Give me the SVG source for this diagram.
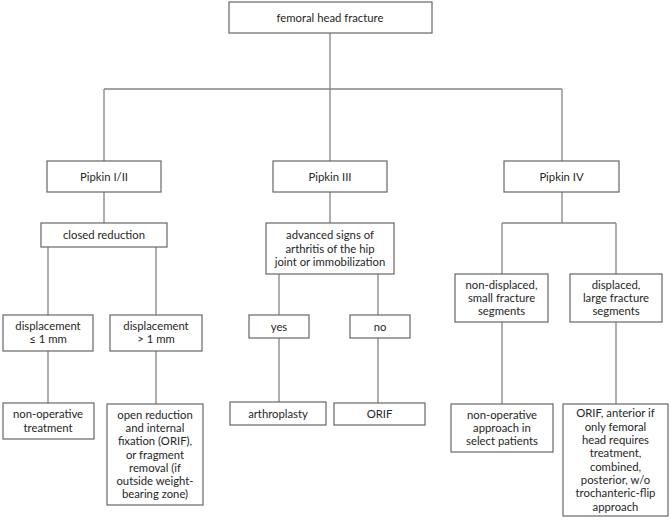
<svg xmlns="http://www.w3.org/2000/svg" width="671" height="521" viewBox="0 0 671 521">
<style>
.b{fill:#fff;stroke:#666;stroke-width:1.2}
.c{fill:none;stroke:#858585;stroke-width:1.3}
text{font-family:Lato,"Open Sans","Liberation Sans",sans-serif;font-size:11.3px;fill:#262626;text-anchor:middle}
</style>
<rect width="671" height="521" fill="#fff"/>
<g id="connectors">
<path class="c" d="M330 33V89M104 89H562M104 89V161M330 89V161M562 89V161"/>
<path class="c" d="M104 192V223M48 247V315M156 247V315M48 351V403M156 351V404"/>
<path class="c" d="M330 192V223M279 274V315M378 274V315M279 338V402M378 338V403"/>
<path class="c" d="M562 192V223M502 223H616M502 223V274M616 223V274M502 322V404M616 322V404"/>
</g>
<g id="n-root"><rect class="b" x="229" y="2" width="203" height="31"/><text x="330" y="21.5">femoral head fracture</text></g>
<g id="n-p12"><rect class="b" x="47" y="161" width="114" height="31"/><text x="104" y="180.5">Pipkin I/II</text></g>
<g id="n-p3"><rect class="b" x="273" y="161" width="114" height="31"/><text x="330" y="180.5">Pipkin III</text></g>
<g id="n-p4"><rect class="b" x="504" y="161" width="115" height="31"/><text x="561.5" y="180.5">Pipkin IV</text></g>
<g id="n-closed"><rect class="b" x="41" y="223" width="126" height="24"/><text x="104" y="239">closed reduction</text></g>
<g id="n-adv"><rect class="b" x="266" y="223" width="128" height="51"/><text x="330" y="239.2">advanced signs of</text><text x="330" y="252.5">arthritis of the hip</text><text x="330" y="265.8">joint or immobilization</text></g>
<g id="n-d1"><rect class="b" x="3" y="315" width="90" height="36"/><text x="48" y="329.5">displacement</text><text x="48" y="342.8">≤ 1 mm</text></g>
<g id="n-d2"><rect class="b" x="110" y="315" width="92" height="36"/><text x="156" y="329.5">displacement</text><text x="156" y="342.8">&gt; 1 mm</text></g>
<g id="n-yes"><rect class="b" x="249" y="315" width="60" height="23"/><text x="279" y="330.5">yes</text></g>
<g id="n-no"><rect class="b" x="350" y="315" width="60" height="23"/><text x="380" y="330.5">no</text></g>
<g id="n-nd"><rect class="b" x="455" y="274" width="93" height="48"/><text x="501.5" y="288.7">non-displaced,</text><text x="501.5" y="302">small fracture</text><text x="501.5" y="315.3">segments</text></g>
<g id="n-dl"><rect class="b" x="570" y="274" width="92" height="48"/><text x="616" y="288.7">displaced,</text><text x="616" y="302">large fracture</text><text x="616" y="315.3">segments</text></g>
<g id="n-nop1"><rect class="b" x="3" y="403" width="91" height="36"/><text x="48" y="418.3">non-operative</text><text x="48" y="431.6">treatment</text></g>
<g id="n-orif1"><rect class="b" x="107" y="404" width="96" height="101"/><text x="155" y="418.6">open reduction</text><text x="155" y="431.9">and internal</text><text x="155" y="445.2">fixation (ORIF),</text><text x="155" y="458.5">or fragment</text><text x="155" y="471.8">removal (if</text><text x="155" y="485.1">outside weight-</text><text x="155" y="498.4">bearing zone)</text></g>
<g id="n-arth"><rect class="b" x="230" y="402" width="96" height="23"/><text x="278" y="417.5">arthroplasty</text></g>
<g id="n-orif2"><rect class="b" x="334" y="403" width="91" height="22"/><text x="379.5" y="418">ORIF</text></g>
<g id="n-nop2"><rect class="b" x="451" y="404" width="102" height="48"/><text x="502" y="418.7">non-operative</text><text x="502" y="432">approach in</text><text x="502" y="445.3">select patients</text></g>
<g id="n-orif3"><rect class="b" x="563" y="404" width="105" height="112"/><text x="615.5" y="417.4">ORIF, anterior if</text><text x="615.5" y="430.7">only femoral</text><text x="615.5" y="444">head requires</text><text x="615.5" y="457.3">treatment,</text><text x="615.5" y="470.6">combined,</text><text x="615.5" y="483.9">posterior, w/o</text><text x="615.5" y="497.2">trochanteric-flip</text><text x="615.5" y="510.5">approach</text></g>
</svg>
